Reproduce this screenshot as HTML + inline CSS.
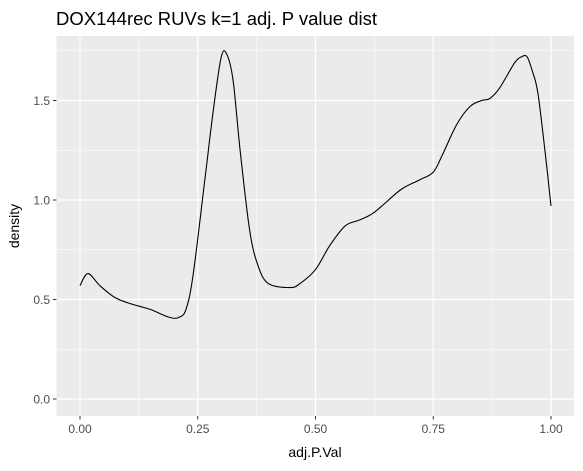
<!DOCTYPE html>
<html><head><meta charset="utf-8"><style>
body{margin:0;background:#fff;}
svg text{font-family:"Liberation Sans",Arial,sans-serif;}
</style></head><body>
<svg width="583" height="466" xmlns="http://www.w3.org/2000/svg">
<rect width="583" height="466" fill="#fff"/>
<text x="56" y="25" font-size="18.5" fill="#000">DOX144rec RUVs k=1 adj. P value dist</text>
<rect x="56.5" y="36" width="517.5" height="380" fill="#ebebeb"/>
<g id="grid"></g>
<g id="axes"></g>
<path id="curve" fill="none" stroke="#000" stroke-width="1.1"/>
<text x="315" y="457" font-size="14" text-anchor="middle" fill="#000">adj.P.Val</text>
<text transform="translate(19,226) rotate(-90)" font-size="14" text-anchor="middle" fill="#000">density</text>
</svg>
<script>
const xs=[0,0.017,0.042,0.074,0.106,0.149,0.19,0.21,0.225,0.24,0.265,0.283,0.30,0.312,0.325,0.34,0.36,0.378,0.40,0.446,0.467,0.50,0.53,0.563,0.594,0.626,0.68,0.72,0.75,0.77,0.80,0.828,0.853,0.87,0.89,0.923,0.938,0.949,0.96,0.972,0.987,1.0];
const ys=[0.57,0.63,0.57,0.51,0.48,0.45,0.41,0.41,0.45,0.62,1.10,1.45,1.72,1.73,1.60,1.25,0.85,0.67,0.58,0.56,0.58,0.65,0.77,0.87,0.90,0.94,1.05,1.10,1.14,1.23,1.38,1.47,1.50,1.51,1.56,1.69,1.72,1.72,1.65,1.54,1.25,0.97];
const xTicks=[0,0.25,0.5,0.75,1];
const xTickLabels=["0.00","0.25","0.50","0.75","1.00"];
const yTicks=[0,0.5,1,1.5];
const yTickLabels=["0.0","0.5","1.0","1.5"];
const X=v=>80+v*471, Y=v=>399-v*199;
const NS="http://www.w3.org/2000/svg";
const grid=document.getElementById('grid'), axes=document.getElementById('axes');
function ln(p,x1,y1,x2,y2,c,w,name){const l=document.createElementNS(NS,'line');
l.setAttribute('x1',x1);l.setAttribute('y1',y1);l.setAttribute('x2',x2);l.setAttribute('y2',y2);
l.setAttribute('stroke',c);l.setAttribute('stroke-width',w);


p.appendChild(l);}
function tx(x,y,s,anchor,name){const t=document.createElementNS(NS,'text');
t.setAttribute('x',x);t.setAttribute('y',y);t.setAttribute('font-size','12');t.setAttribute('fill','#4d4d4d');t.setAttribute('text-anchor',anchor);t.textContent=s;


axes.appendChild(t);}
for(let i=0;i<xTicks.length-1;i++){const m=(xTicks[i]+xTicks[i+1])/2;ln(grid,X(m),36,X(m),416,'#fff',0.6,'x-minor-gridline');}
for(let i=0;i<yTicks.length;i++){const m=yTicks[i]+0.25;ln(grid,56.5,Y(m),574,Y(m),'#fff',0.6,'y-minor-gridline');}
xTicks.forEach((v,i)=>{ln(grid,X(v),36,X(v),416,'#fff',1.2,'x-gridline');ln(axes,X(v),416,X(v),419.5,'#333',1,'x-tick');tx(X(v),433,xTickLabels[i],'middle','x-tick-label');});
yTicks.forEach((v,i)=>{ln(grid,56.5,Y(v),574,Y(v),'#fff',1.2,'y-gridline');ln(axes,53,Y(v),56.5,Y(v),'#333',1,'y-tick');tx(50,Y(v)+4.5,yTickLabels[i],'end','y-tick-label');});
const P=xs.map((v,i)=>[X(v),Y(ys[i])]);
let d='M'+P[0][0].toFixed(1)+','+P[0][1].toFixed(1);
for(let i=0;i<P.length-1;i++){
  const p0=P[Math.max(0,i-1)],p1=P[i],p2=P[i+1],p3=P[Math.min(P.length-1,i+2)];
  const c1=[p1[0]+(p2[0]-p0[0])/6,p1[1]+(p2[1]-p0[1])/6];
  const c2=[p2[0]-(p3[0]-p1[0])/6,p2[1]-(p3[1]-p1[1])/6];
  d+='C'+c1.map(n=>n.toFixed(1)).join(',')+' '+c2.map(n=>n.toFixed(1)).join(',')+' '+p2[0].toFixed(1)+','+p2[1].toFixed(1);
}
document.getElementById('curve').setAttribute('d',d);
</script>
</body></html>
